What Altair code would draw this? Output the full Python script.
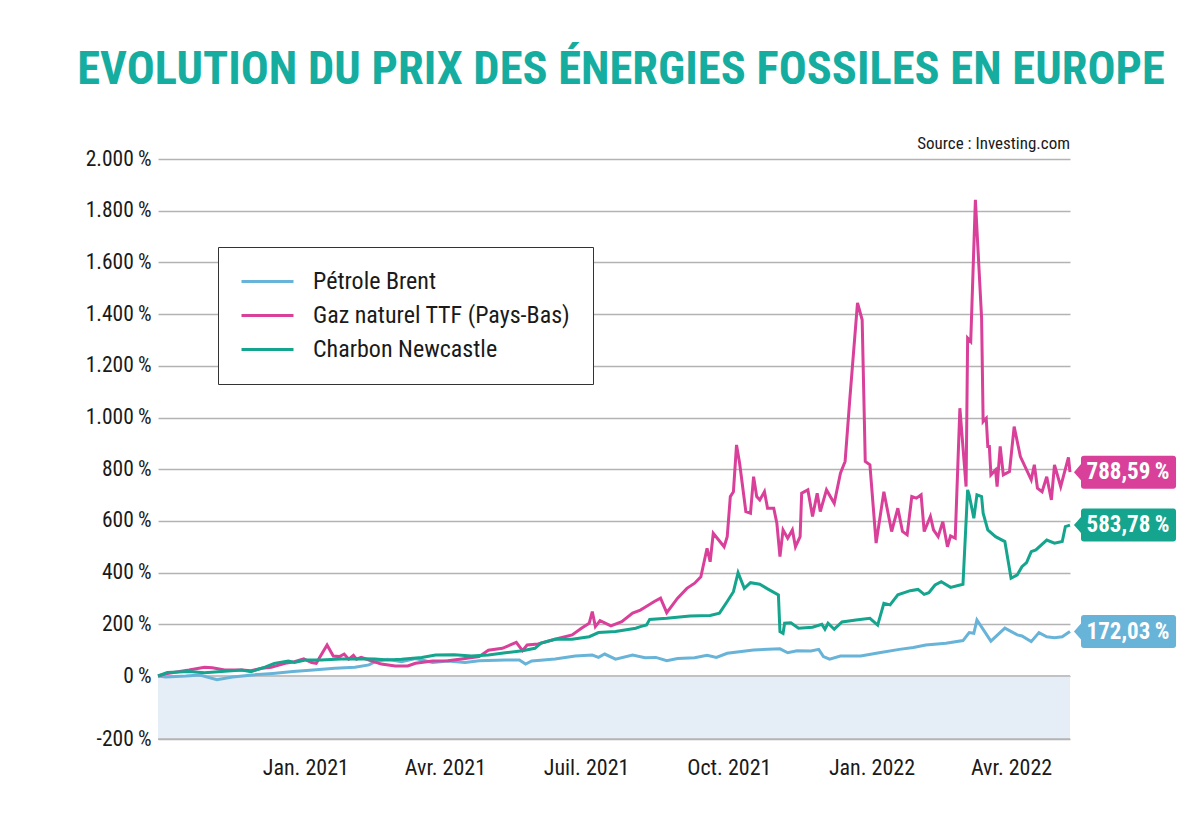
import altair as alt
import pandas as pd

NARROW = "Roboto Condensed, Liberation Sans Narrow, Roboto, sans-serif"
TEAL_TITLE = "#16ada1"

series_names = ["Pétrole Brent", "Gaz naturel TTF (Pays-Bas)", "Charbon Newcastle"]
series_colors = ["#68b3d8", "#d8409a", "#15a58e"]
end_labels = ["172,03\u2009%", "788,59\u2009%", "583,78\u2009%"]

y_ticks = [-200, 0, 200, 400, 600, 800, 1000, 1200, 1400, 1600, 1800, 2000]

brent_dates = ["2020-09-28", "2020-10-03", "2020-10-16", "2020-10-25", "2020-11-05", "2020-11-15", "2020-11-28",
               "2020-12-11", "2020-12-24", "2021-01-06", "2021-01-20", "2021-02-02", "2021-02-11", "2021-02-15",
               "2021-02-23", "2021-03-04", "2021-03-13", "2021-03-24", "2021-04-03", "2021-04-14", "2021-04-23",
               "2021-05-10", "2021-05-19", "2021-05-23", "2021-05-27", "2021-06-11", "2021-06-24", "2021-07-05",
               "2021-07-09", "2021-07-13", "2021-07-20", "2021-07-31", "2021-08-08", "2021-08-15", "2021-08-22",
               "2021-08-29", "2021-09-09", "2021-09-17", "2021-09-23", "2021-09-30", "2021-10-17", "2021-11-03",
               "2021-11-08", "2021-11-14", "2021-11-23", "2021-11-28", "2021-12-01", "2021-12-05", "2021-12-12",
               "2021-12-25", "2022-01-06", "2022-01-19", "2022-01-28", "2022-02-05", "2022-02-18", "2022-03-01",
               "2022-03-05", "2022-03-08", "2022-03-10", "2022-03-19", "2022-03-28", "2022-04-05", "2022-04-08",
               "2022-04-14", "2022-04-19", "2022-04-24", "2022-04-29", "2022-05-04", "2022-05-08", "2022-05-09"]
brent_values = [0, -3, 0, 4, -12, -3, 4,
                10, 17, 23, 30, 34, 43, 55,
                65, 55, 68, 52, 58, 52, 59,
                62, 62, 46, 58, 66, 77, 81,
                72, 85, 65, 81, 71, 72, 59,
                68, 71, 80, 72, 88, 101, 105,
                90, 98, 97, 103, 75, 65, 77,
                77, 90, 103, 110, 120, 127, 137,
                168, 165, 217, 135, 185, 159, 155,
                133, 168, 152, 148, 152, 168, 172.03]

gaz_dates = ["2020-09-28", "2020-10-04", "2020-10-18", "2020-10-28", "2020-11-02", "2020-11-10", "2020-11-21",
             "2020-11-27", "2020-12-04", "2020-12-10", "2020-12-19", "2020-12-25", "2020-12-31", "2021-01-05",
             "2021-01-08", "2021-01-15", "2021-01-19", "2021-01-23", "2021-01-26", "2021-01-29", "2021-02-01",
             "2021-02-03", "2021-02-06", "2021-02-11", "2021-02-19", "2021-02-28", "2021-03-08", "2021-03-13",
             "2021-03-24", "2021-04-03", "2021-04-14", "2021-04-23", "2021-04-29", "2021-05-08", "2021-05-17",
             "2021-05-21", "2021-05-24", "2021-05-31", "2021-06-11", "2021-06-22", "2021-06-28", "2021-07-03",
             "2021-07-05", "2021-07-07", "2021-07-10", "2021-07-17", "2021-07-24", "2021-07-31", "2021-08-05",
             "2021-08-08", "2021-08-14", "2021-08-18", "2021-08-22", "2021-08-29", "2021-09-04", "2021-09-09",
             "2021-09-13", "2021-09-17", "2021-09-19", "2021-09-21", "2021-09-28", "2021-09-30", "2021-10-02",
             "2021-10-04", "2021-10-06", "2021-10-08", "2021-10-12", "2021-10-15", "2021-10-17", "2021-10-19",
             "2021-10-21", "2021-10-24", "2021-10-26", "2021-10-30", "2021-11-01", "2021-11-03", "2021-11-05",
             "2021-11-08", "2021-11-11", "2021-11-13", "2021-11-16", "2021-11-17", "2021-11-21", "2021-11-24",
             "2021-11-27", "2021-11-29", "2021-12-03", "2021-12-08", "2021-12-12", "2021-12-15", "2021-12-18",
             "2021-12-23", "2021-12-26", "2021-12-28", "2021-12-31", "2022-01-04", "2022-01-09", "2022-01-14",
             "2022-01-18", "2022-01-21", "2022-01-24", "2022-01-27", "2022-01-30", "2022-02-02", "2022-02-04",
             "2022-02-08", "2022-02-10", "2022-02-13", "2022-02-16", "2022-02-19", "2022-02-21", "2022-02-24",
             "2022-02-27", "2022-03-03", "2022-03-04", "2022-03-06", "2022-03-09", "2022-03-13", "2022-03-14",
             "2022-03-16", "2022-03-17", "2022-03-18", "2022-03-19", "2022-03-22", "2022-03-23", "2022-03-25",
             "2022-03-27", "2022-03-31", "2022-04-03", "2022-04-07", "2022-04-11", "2022-04-14", "2022-04-16",
             "2022-04-18", "2022-04-21", "2022-04-24", "2022-04-27", "2022-04-29", "2022-05-03", "2022-05-08",
             "2022-05-09"]
gaz_values = [0, 10, 23, 34, 32, 23, 23,
              20, 30, 34, 49, 55, 66, 52,
              49, 120, 77, 75, 85, 65, 80,
              65, 72, 62, 46, 39, 39, 49,
              58, 59, 68, 75, 100, 107, 130,
              98, 120, 124, 142, 159, 185, 204,
              249, 191, 214, 194, 210, 243, 255,
              266, 288, 301, 245, 301, 339, 359,
              384, 494, 442, 552, 500, 539, 694,
              713, 894, 823, 636, 630, 771, 694,
              681, 713, 649, 649, 591, 462, 565,
              533, 565, 500, 539, 707, 720, 617,
              707, 636, 720, 668, 785, 830, 1068,
              1443, 1378, 830, 817, 514, 713, 559,
              649, 559, 546, 694, 688, 701, 559,
              617, 565, 539, 597, 500, 542, 533,
              1036, 733, 1307, 1294, 1842, 1385, 984,
              997, 888, 888, 778, 797, 733, 888,
              778, 791, 965, 849, 797, 759, 817,
              727, 713, 771, 681, 817, 733, 846,
              788.59]

charbon_dates = ["2020-09-28", "2020-10-04", "2020-10-18", "2020-10-28", "2020-11-08", "2020-11-21", "2020-11-27",
                 "2020-12-06", "2020-12-12", "2020-12-21", "2020-12-25", "2021-01-01", "2021-01-11", "2021-01-24",
                 "2021-02-06", "2021-02-15", "2021-02-23", "2021-03-04", "2021-03-17", "2021-03-26", "2021-04-07",
                 "2021-04-18", "2021-04-29", "2021-05-10", "2021-05-21", "2021-05-29", "2021-06-02", "2021-06-11",
                 "2021-06-22", "2021-07-03", "2021-07-09", "2021-07-20", "2021-08-02", "2021-08-05", "2021-08-09",
                 "2021-08-11", "2021-08-22", "2021-09-06", "2021-09-19", "2021-09-25", "2021-09-30", "2021-10-04",
                 "2021-10-07", "2021-10-11", "2021-10-15", "2021-10-21", "2021-10-26", "2021-11-02", "2021-11-03",
                 "2021-11-05", "2021-11-06", "2021-11-10", "2021-11-15", "2021-11-24", "2021-11-30", "2021-12-02",
                 "2021-12-04", "2021-12-08", "2021-12-13", "2021-12-22", "2021-12-31", "2022-01-05", "2022-01-09",
                 "2022-01-13", "2022-01-18", "2022-01-26", "2022-01-31", "2022-02-04", "2022-02-07", "2022-02-11",
                 "2022-02-15", "2022-02-21", "2022-03-01", "2022-03-04", "2022-03-05", "2022-03-08", "2022-03-10",
                 "2022-03-13", "2022-03-14", "2022-03-17", "2022-03-22", "2022-03-28", "2022-04-01", "2022-04-05",
                 "2022-04-08", "2022-04-11", "2022-04-14", "2022-04-17", "2022-04-24", "2022-04-29", "2022-05-04",
                 "2022-05-06", "2022-05-09"]
charbon_values = [0, 14, 17, 13, 17, 23, 17,
                  34, 49, 58, 52, 62, 62, 66,
                  67, 66, 62, 65, 72, 81, 82,
                  77, 81, 90, 98, 107, 127, 142,
                  142, 152, 168, 172, 185, 191, 197,
                  219, 223, 232, 234, 243, 288, 326,
                  400, 339, 361, 355, 337, 314, 172,
                  165, 204, 206, 185, 189, 200, 181,
                  204, 181, 209, 217, 223, 197, 281,
                  275, 314, 330, 335, 316, 322, 352,
                  365, 343, 355, 720, 701, 610, 701,
                  694, 630, 565, 539, 520, 378, 391,
                  423, 439, 481, 488, 526, 514, 520,
                  578, 583.78]

all_dates = [brent_dates, gaz_dates, charbon_dates]
all_values = [brent_values, gaz_values, charbon_values]

frames = []
for name, d, v in zip(series_names, all_dates, all_values):
    frames.append(pd.DataFrame({"date": d, "value": v, "serie": name}))
df = pd.concat(frames, ignore_index=True)

end_df = pd.DataFrame({
    "date": [d[-1] for d in all_dates],
    "value": [v[-1] for v in all_values],
    "label": end_labels,
    "col": series_colors,
})

band_df = pd.DataFrame({"start": [brent_dates[0]], "end": [brent_dates[-1]], "lo": [-200], "hi": [0]})
base_lines_df = pd.DataFrame({"level": [0, -200]})

x_scale = alt.Scale(domain=[alt.DateTime(year=2020, month=9, date=28),
                            alt.DateTime(year=2022, month=5, date=9)])
y_scale = alt.Scale(domain=[-200, 0, 2000], range=[580, 517, 0], nice=False, zero=False)

x_axis = alt.Axis(
    title=None,
    values=[alt.DateTime(year=2021, month=1, date=1), alt.DateTime(year=2021, month=4, date=1),
            alt.DateTime(year=2021, month=7, date=1), alt.DateTime(year=2021, month=10, date=1),
            alt.DateTime(year=2022, month=1, date=1), alt.DateTime(year=2022, month=4, date=1)],
    labelExpr="(month(datum.value)==0 ? 'Jan. ' : month(datum.value)==3 ? 'Avr. ' : "
              "month(datum.value)==6 ? 'Juil. ' : 'Oct. ') + year(datum.value)",
    grid=False, ticks=False, domain=False,
    labelFont=NARROW, labelFontSize=22, labelColor="#1a1a1a", labelPadding=18,
)
y_axis = alt.Axis(
    title=None, values=y_ticks,
    labelExpr="replace(replace(format(datum.value, ','), ',', '.'), '\u2212', '-') + '\u2009%'",
    grid=True, gridColor="#b3b3b3", gridWidth=1.5,
    ticks=False, domain=False,
    labelFont=NARROW, labelFontSize=21.5, labelColor="#1a1a1a", labelPadding=7,
)


def xenc(field):
    return alt.X(field, type="temporal", scale=x_scale, axis=x_axis)


def yenc(field):
    return alt.Y(field, type="quantitative", scale=y_scale, axis=y_axis)


band = alt.Chart(band_df).mark_rect(color="#e5edf6").encode(
    x=xenc("start"), x2="end", y=yenc("lo"), y2="hi"
)

base_rules = alt.Chart(base_lines_df).mark_rule(color="#b3b3b3", strokeWidth=1.5).encode(
    y=yenc("level")
)

# legend line symbol: 52 px long stroke drawn from the left edge of a 22 px symbol slot
LEGEND_LINE = "M-1,0 L3.727,0"

lines = alt.Chart(df).mark_line(strokeWidth=3).encode(
    x=xenc("date"),
    y=yenc("value"),
    color=alt.Color(
        "serie:N",
        scale=alt.Scale(domain=series_names, range=series_colors),
        sort=series_names,
        legend=alt.Legend(
            title=None, orient="none", legendX=60, legendY=88, direction="vertical",
            symbolType=LEGEND_LINE, symbolSize=484, symbolStrokeWidth=3,
            labelFont=NARROW, labelFontSize=24, labelColor="#1a1a1a", labelOffset=48,
            labelLimit=400, padding=22, rowPadding=9,
            strokeColor="#333333", fillColor="white",
        ),
    ),
    order=alt.Order("date:T"),
)

BOX = ("M0.036,0 L0.1,-0.073 L0.1,-0.123 Q0.1,-0.15 0.127,-0.15 L0.937,-0.15 "
       "Q0.964,-0.15 0.964,-0.123 L0.964,0.123 Q0.964,0.15 0.937,0.15 L0.127,0.15 "
       "Q0.1,0.15 0.1,0.123 L0.1,0.073 Z")

boxes = alt.Chart(end_df).mark_point(shape=BOX, size=48400, filled=True, opacity=1, strokeWidth=0).encode(
    x=xenc("date"), y=yenc("value"), color=alt.Color("col:N", scale=None)
)

box_text = alt.Chart(end_df).mark_text(
    dx=58, align="center", baseline="middle", font=NARROW, fontSize=23, fontWeight="bold", color="white"
).encode(x=xenc("date"), y=yenc("value"), text="label:N")

source = alt.Chart(pd.DataFrame({"t": ["Source : Investing.com"]})).mark_text(
    align="right", baseline="middle", font=NARROW, fontSize=17, color="#1a1a1a"
).encode(x=alt.value(912), y=alt.value(-15), text="t:N")

chart = alt.layer(band, base_rules, lines, boxes, box_text, source).properties(
    width=912,
    height=580,
    autosize=alt.AutoSizeParams(type="none"),
    padding={"left": 158, "top": 159, "right": 130, "bottom": 76},
    background="white",
    title=alt.TitleParams(
        text="EVOLUTION DU PRIX DES ÉNERGIES FOSSILES EN EUROPE",
        font=NARROW, fontSize=46.5, fontWeight="bold", color=TEAL_TITLE,
        anchor="middle", frame="group", offset=42, dx=7,
    ),
).configure_view(stroke=None)

chart.save("out.html", embed_options={"renderer": "svg", "actions": False})
